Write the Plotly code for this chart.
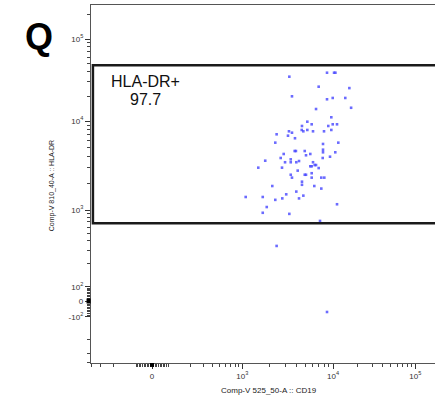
import numpy as np
import plotly.graph_objects as go

# ---- data (raw fluorescence intensities) ----
cd19 = [3300, 8590, 10300, 10700, 6950, 15800, 3530, 8590, 9930, 14100, 6500, 16600,
        9580, 5210, 5820, 8870, 9930, 11190, 4550, 3270, 3530, 4520, 4710, 5210,
        6020, 7960, 9580, 2390, 3190, 3810, 2310, 7760, 11600, 3780, 3900, 4880,
        7760, 7760, 10660, 2860, 5040, 5620, 9270, 2650, 3420, 7700, 1790, 2960,
        3420, 3940, 4220, 6020, 6280, 6500, 5620, 5820, 6950, 1500, 2740, 4080,
        5820, 3420, 4880, 5040, 3530, 5820, 7430, 8020, 4550, 4550, 2140, 6220,
        7430, 3940, 3050, 4710, 1090, 1680, 2760, 4220, 2310, 11190, 1860, 1680,
        3300, 7190, 2390, 8590]
hla_dr = [34700, 38800, 38800, 38800, 26200, 25200, 20000, 18400, 19100, 19100, 14000, 14500,
          11100, 9820, 9180, 8790, 9180, 9180, 8790, 7660, 7390, 7930, 7660, 7930,
          7660, 7660, 7930, 7090, 6840, 6400, 5710, 5520, 5710, 4600, 4600, 4600,
          4760, 4450, 4450, 4260, 4120, 4260, 3970, 3840, 3710, 3840, 3580, 3440,
          3440, 3440, 3550, 3440, 3200, 3200, 3100, 3100, 2960, 2990, 2990, 2770,
          2590, 2490, 2490, 2490, 2310, 2310, 2310, 2310, 2080, 1920, 1860, 1860,
          1740, 1610, 1500, 1450, 1400, 1400, 1350, 1350, 1300, 1160, 1080, 920,
          890, 720, 340, -70]

gate_name = "HLA-DR+"
gate_pct = "97.7"
gate_x = [-380, 262144]
gate_y = [670, 48000]

x_major = [0, 1e3, 1e4, 1e5]
x_major_text = ["0", "10<sup>3</sup>", "10<sup>4</sup>", "10<sup>5</sup>"]
y_major = [-100, 0, 100, 1e3, 1e4, 1e5]
y_major_text = ["-10<sup>2</sup>", "0", "10<sup>2</sup>", "10<sup>3</sup>", "10<sup>4</sup>", "10<sup>5</sup>"]

# ---- biexponential-like display scale (log above |100|, linear near zero) ----
G = [-4, -3, -2, 0, 2, 3, 4, 5, 6]
X_POS = [-12.6, 61.7, 136, 152, 168, 242.3, 333, 415.3, 497.6]
Y_POS = [-107, -30.4, 46.3, 62, 76.3, 153, 242, 324, 406]


def biex(v, pos):
    v = np.asarray(v, dtype=float)
    a = np.abs(v)
    g = np.where(a >= 100, np.sign(v) * np.log10(np.maximum(a, 1e-9)), 2 * v / 100)
    return np.interp(g, G, pos)


def minor_vals():
    vals = []
    for dec in [1e2, 1e3, 1e4, 1e5]:
        vals += [k * dec for k in range(2, 10)]
    vals += [-k * 100 for k in range(2, 10)]
    vals += [s * k * 10 for s in (1, -1) for k in range(1, 10)]
    vals += [100, -100, -1000]
    return vals


fig = go.Figure()
fig.add_trace(go.Scatter(
    x=biex(cd19, X_POS), y=biex(hla_dr, Y_POS), mode="markers",
    marker=dict(symbol="square", size=2.6, color="rgba(70,70,255,0.8)", line=dict(width=0)),
    hoverinfo="skip", showlegend=False))

# gate rectangle
fig.add_shape(type="rect", xref="x", yref="y",
              x0=float(biex(gate_x[0], X_POS)), x1=float(biex(gate_x[1], X_POS)),
              y0=float(biex(gate_y[0], Y_POS)), y1=float(biex(gate_y[1], Y_POS)),
              line=dict(color="#1a1a1a", width=2.5), fillcolor="rgba(0,0,0,0)")

# piled-up events at zero on both axes
x0p = float(biex(0, X_POS))
y0p = float(biex(0, Y_POS))
fig.add_shape(type="rect", xref="x", yref="paper", x0=x0p - 2, x1=x0p + 2, y0=-0.011, y1=0.0,
              line=dict(width=0), fillcolor="black")
fig.add_shape(type="rect", xref="paper", yref="y", x0=-0.013, x1=-0.001, y0=y0p - 2.5, y1=y0p + 2.5,
              line=dict(width=0), fillcolor="black")

tickfont = dict(family="Liberation Sans, Arial", size=8, color="#333")
axis_common = dict(showgrid=False, zeroline=False, showline=True, linecolor="#555", linewidth=1.3,
                   ticks="outside", ticklen=5, tickwidth=1.3, tickcolor="#333", tickfont=tickfont,
                   tickmode="array",
                   minor=dict(tickmode="array", ticks="outside", ticklen=3, tickwidth=1,
                              tickcolor="#444", showgrid=False))

fig.update_xaxes(**axis_common, range=[91, 435], mirror=True,
                 tickvals=biex(x_major, X_POS), ticktext=x_major_text)
fig.update_xaxes(minor_tickvals=biex(minor_vals(), X_POS))
fig.update_yaxes(**axis_common, range=[0, 358], mirror=False,
                 tickvals=biex(y_major, Y_POS), ticktext=y_major_text)
fig.update_yaxes(minor_tickvals=biex(minor_vals(), Y_POS))

font = "Liberation Sans, Arial"
fig.add_annotation(text="<b>Q</b>", xref="paper", yref="paper", x=-0.151, y=0.911, showarrow=False,
                   font=dict(family=font, size=36, color="black"), xanchor="center", yanchor="middle")
fig.add_annotation(text=gate_name, xref="paper", yref="paper", x=0.157, y=0.786, showarrow=False,
                   font=dict(family=font, size=16, color="#111"), xanchor="center", yanchor="middle")
fig.add_annotation(text=gate_pct, xref="paper", yref="paper", x=0.157, y=0.735, showarrow=False,
                   font=dict(family=font, size=16, color="#111"), xanchor="center", yanchor="middle")
fig.add_annotation(text="Comp-V 810_40-A :: HLA-DR", xref="paper", yref="paper", x=-0.113, y=0.494,
                   textangle=-90, showarrow=False, font=dict(family=font, size=7, color="#222"),
                   xanchor="center", yanchor="middle")
fig.add_annotation(text="Comp-V 525_50-A :: CD19", xref="paper", yref="paper", x=0.517, y=-0.078,
                   showarrow=False, font=dict(family=font, size=8, color="#222"),
                   xanchor="center", yanchor="middle")

fig.update_layout(width=435, height=404, margin=dict(l=91, r=0, t=5, b=41),
                  paper_bgcolor="white", plot_bgcolor="white")
fig.write_html("out.html")
